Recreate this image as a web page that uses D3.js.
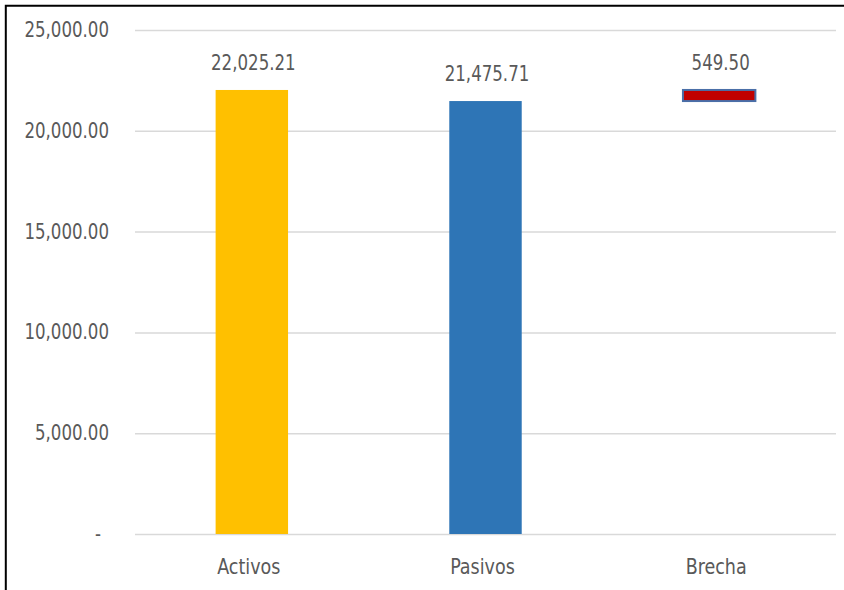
<!DOCTYPE html>
<html>
<head>
<meta charset="utf-8">
<script src="https://cdn.jsdelivr.net/npm/d3@7/dist/d3.min.js"></script>
<style>
  html, body { margin: 0; padding: 0; background: #fff; }
  svg { display: block; }
  text { font-family: "DejaVu Sans Condensed", "DejaVu Sans", sans-serif; font-stretch: condensed; fill: #595959; }
</style>
</head>
<body>
<svg id="chart" width="844" height="590"></svg>
<script>
// Balance: assets, liabilities and the gap between them
const categories = ["Activos", "Pasivos", "Brecha"];
const baseValues = [0, 0, 21475.71];          // invisible base of each stacked column
const barValues = [22025.21, 21475.71, 549.50]; // visible segment
const barColors = ["#FFC000", "#2E75B6", "#C00000"];
const yTicks = [0, 5000, 10000, 15000, 20000, 25000];

const W = 844, H = 590;
const plot = { left: 135, right: 836, top: 30, bottom: 534 };
const svg = d3.select("#chart");

// Frame lines (top and left)
svg.append("path")
  .attr("d", `M5.8,${H} L5.8,5.8 L${W},5.8`)
  .attr("fill", "none").attr("stroke", "#000").attr("stroke-width", 2);

const x = d3.scaleBand().domain(categories)
  .range([plot.left, plot.right]).paddingInner(0.69).paddingOuter(0.345);
const y = d3.scaleLinear().domain([0, 25000]).range([plot.bottom, plot.top]);

const fmt = d3.format(",.2f");
const vStretch = 1.12;

// Gridlines
const yAxis = d3.axisLeft(y).tickValues(yTicks)
  .tickSize(-(plot.right - plot.left)).tickFormat("");
const gy = svg.append("g").attr("transform", `translate(${plot.left},0)`).call(yAxis);
gy.select(".domain").remove();
gy.selectAll(".tick line").attr("stroke", "#D9D9D9").attr("stroke-width", 1.5);

// Y tick labels
svg.append("g").selectAll("text").data(yTicks).join("text")
  .attr("text-anchor", "end")
  .attr("font-size", 18.5)
  .attr("transform", d => `translate(${d === 0 ? 101 : 109},${y(d) + 7}) scale(1,${vStretch})`)
  .text(d => d === 0 ? "-" : fmt(d));

// Bars
const rows = categories.map((c, i) => ({ c, base: baseValues[i], v: barValues[i], color: barColors[i] }));
svg.append("g").selectAll("rect").data(rows).join("rect")
  .attr("x", d => x(d.c))
  .attr("width", x.bandwidth())
  .attr("y", d => y(d.base + d.v))
  .attr("height", d => y(d.base) - y(d.base + d.v))
  .attr("fill", d => d.color)
  .attr("stroke", d => d.base > 0 ? "#4A6FA8" : "none")
  .attr("stroke-width", d => d.base > 0 ? 2 : 0);

// Value labels
svg.append("g").selectAll("text").data(rows).join("text")
  .attr("text-anchor", "middle")
  .attr("font-size", 18.5)
  .attr("transform", d => `translate(${x(d.c) + x.bandwidth() / 2 + 1.5},${y(d.base + d.v) - 20}) scale(1,${vStretch})`)
  .text(d => fmt(d.v));

// Category labels
svg.append("g").selectAll("text").data(categories).join("text")
  .attr("text-anchor", "middle")
  .attr("font-size", 19.5)
  .attr("transform", d => `translate(${x(d) + x.bandwidth() / 2 - 3},574) scale(1,${vStretch})`)
  .text(d => d);
</script>
</body>
</html>
